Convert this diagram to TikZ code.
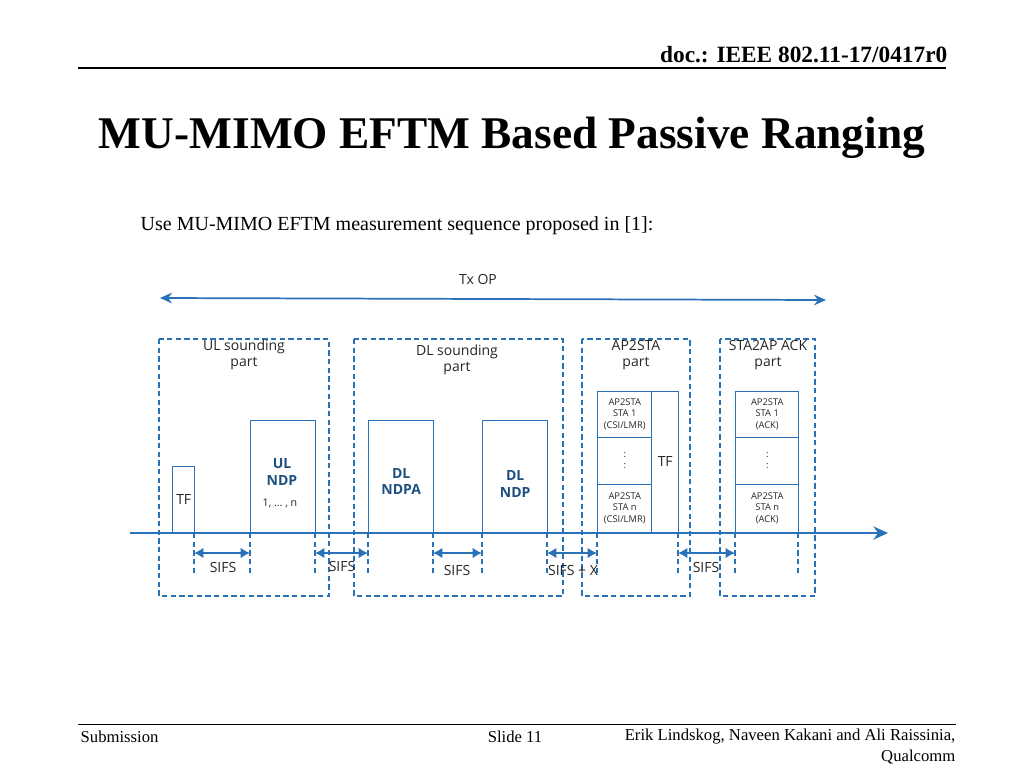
\documentclass[tikz,border=0pt]{standalone}
\usepackage{fontspec}
\setmainfont{Liberation Serif}
\newfontfamily\diagfont{Open Sans}
\usetikzlibrary{arrows.meta,positioning}
\definecolor{seqblue}{HTML}{2A72B8}
\tikzset{
  partbox/.style={draw=seqblue, dash pattern=on 4pt off 2.5pt, line width=1.1pt},
  frame/.style={draw=seqblue, line width=1.1pt, inner sep=0pt, anchor=south west},
  tick/.style={draw=seqblue, dash pattern=on 4pt off 2.5pt, line width=1.1pt},
  gap/.style={seqblue, line width=1.5pt, {Latex[length=7pt,width=8pt]}-{Latex[length=7pt,width=8pt]}},
  lbl/.style={font=\diagfont\fontsize{10.5}{12}\selectfont, align=center, text=black!85},
  small/.style={font=\diagfont\fontsize{7}{8.5}\selectfont, align=center, text=black!85},
  bold/.style={font=\diagfont\bfseries\fontsize{10.5}{12.5}\selectfont, align=center, text=seqblue!70!black}
}
\begin{document}
\begin{tikzpicture}[x=0.75pt, y=-0.75pt]
  \useasboundingbox (0,0) rectangle (1024,768);

  % ── Slide header and footer ──
  \node[anchor=east, font=\bfseries\fontsize{17.5}{20}\selectfont] (doc) at (952,55) {doc.: IEEE 802.11-17/0417r0};
  \draw[thick] (78,68) -- (946,68);
  \node[font=\bfseries\fontsize{34}{40}\selectfont] (title) at (512,138) {MU-MIMO EFTM Based Passive Ranging};
  \node[anchor=west, font=\fontsize{15}{17}\selectfont] (intro) at (136,226) {Use MU-MIMO EFTM measurement sequence proposed in [1]:};
  \draw (78,724) -- (956,724);
  \node[anchor=west, font=\fontsize{12.5}{14}\selectfont] (sub) at (76,737) {Submission};
  \node[font=\fontsize{12.5}{14}\selectfont] (slide) at (515,737) {Slide 11};
  \node[anchor=east, font=\fontsize{12.5}{14}\selectfont] (auth) at (960,737) {Erik Lindskog, Naveen Kakani and Ali Raissinia,};
  \node[anchor=east, font=\fontsize{12.5}{14}\selectfont] (org) at (960,757) {Qualcomm};

  % ── TxOP ──
  \node[lbl] (txop) at (478,279) {Tx OP};
  \coordinate (txl) at (160,298);
  \coordinate (txr) at (826,300);
  \draw[seqblue, line width=1.3pt, {Stealth[length=9pt,width=8pt]}-{Stealth[length=9pt,width=8pt]}] (txl) -- (txr);

  % ── Parts ──
  \draw[partbox] (159,339) rectangle (329,596);
  \draw[partbox] (354,339) rectangle (563,596);
  \draw[partbox] (582,339) rectangle (690,596);
  \draw[partbox] (720,339) rectangle (815,596);
  \node[lbl] (ulp) at (244,355) {UL sounding\\part};
  \node[lbl] (dlp) at (457,360) {DL sounding\\part};
  \node[lbl] (app) at (636,355) {AP2STA\\part};
  \node[lbl] (stp) at (768,355) {STA2AP ACK\\part};

  % ── Frames ──
  \node[frame, minimum width=22*0.75pt, minimum height=66*0.75pt] (tf) at (172,533) {};
  \node[lbl] at (tf) {TF};
  \node[frame, minimum width=65*0.75pt, minimum height=112*0.75pt] (ulndp) at (250,533) {};
  \node[bold] at (282,472) {UL\\NDP};
  \node[small, font=\diagfont\fontsize{8}{9}\selectfont] at (280,503) {1, \dots\ , n};
  \node[frame, minimum width=65*0.75pt, minimum height=112*0.75pt] (ndpa) at (368,533) {};
  \node[bold] at ([yshift=-4pt]ndpa.center) {DL\\NDPA};
  \node[frame, minimum width=65*0.75pt, minimum height=112*0.75pt] (dlndp) at (482,533) {};
  \node[bold] at ([yshift=-6pt]dlndp.center) {DL\\NDP};

  % AP2STA stack
  \foreach \y/\h/\t in {485/48/{AP2STA\\STA n\\(CSI/LMR)}, 438/47/{:\\:}, 392/46/{AP2STA\\STA 1\\(CSI/LMR)}}
    \node[frame, small, minimum width=54*0.75pt, minimum height=\h*0.75pt] at (597,\y+\h) {\t};
  \node[frame, minimum width=27*0.75pt, minimum height=141*0.75pt] (tf2) at (651,533) {};
  \node[lbl] at (tf2) {TF};
  % STA2AP stack
  \foreach \y/\h/\t in {485/48/{AP2STA\\STA n\\(ACK)}, 438/47/{:\\:}, 392/46/{AP2STA\\STA 1\\(ACK)}}
    \node[frame, small, minimum width=63*0.75pt, minimum height=\h*0.75pt] at (735,\y+\h) {\t};

  % ── Time axis ──
  \coordinate (t0) at (130,533);
  \coordinate (t1) at (888,533);
  \draw[seqblue, line width=1.3pt, -{Stealth[length=11pt,width=10pt]}] (t0) -- (t1);

  % ── Gaps ──
  \foreach \x in {194,250,315,368,433,482,547,597,678,735,798}
    \draw[tick] (\x,533) -- (\x,574);
  \foreach \a/\b/\lx/\ly/\t in {194/250/223/567/SIFS, 315/368/342/566/SIFS, 433/482/457/570/SIFS, 547/597/573/570/SIFS + X, 678/735/706/567/SIFS}{
    \draw[gap] (\a,553) -- (\b,553);
    \node[lbl] at (\lx,\ly) {\t};
  }
\end{tikzpicture}
\end{document}
